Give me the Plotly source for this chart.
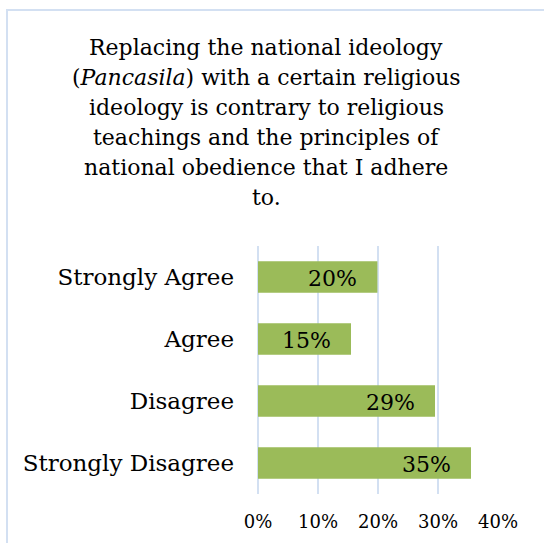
import plotly.graph_objects as go

categories = ["Strongly Agree", "Agree", "Disagree", "Strongly Disagree"]
values = [0.199, 0.155, 0.295, 0.355]
value_labels = ["20%", "15%", "29%", "35%"]
tick_vals = [0, 0.1, 0.2, 0.3, 0.4]
tick_text = ["0%", "10%", "20%", "30%", "40%"]

title_lines = [
    "Replacing the national ideology",
    "(<i>Pancasila</i>) with a certain religious",
    "ideology is contrary to religious",
    "teachings and the principles of",
    "national obedience that I adhere",
    "to.",
]

FONT = "DejaVu Serif"
W, H = 544, 543
L, R, T, B = 258, 46, 246, 49
pw = W - L - R
ph = H - T - B


def px_x(sx):
    return (sx - L) / pw


def px_y(sy):
    return 1 + (T - sy) / ph


fig = go.Figure()
fig.add_trace(go.Bar(
    x=values, y=categories, orientation="h",
    marker=dict(color="#9BBB59", line=dict(width=0)),
    hoverinfo="skip",
))

for v, c, t in zip(values, categories, value_labels):
    fig.add_annotation(x=v, y=c, text=t, showarrow=False, xanchor="right",
                       xshift=-18, yshift=-1,
                       font=dict(family=FONT, size=22, color="#000000"))

# title lines (baselines at 55, 85, ... px)
for i, line in enumerate(title_lines):
    baseline = 55 + 30 * i
    fig.add_annotation(xref="paper", yref="paper", x=px_x(266), y=px_y(baseline - 8),
                       text=line, showarrow=False, xanchor="center", yanchor="middle",
                       font=dict(family=FONT, size=22, color="#000000"))

# chart-area border
fig.add_shape(type="rect", xref="paper", yref="paper",
              x0=px_x(7), x1=px_x(W + 20), y0=px_y(H + 20), y1=px_y(10),
              line=dict(color="#D3E0F2", width=2), fillcolor="rgba(0,0,0,0)", layer="below")

fig.update_layout(
    width=W, height=H,
    margin=dict(l=L, r=R, t=T, b=B, autoexpand=False),
    paper_bgcolor="white", plot_bgcolor="white",
    bargap=0.49,
    showlegend=False,
    font=dict(family=FONT, color="#000000"),
)
fig.update_xaxes(range=[0, 0.4], tickvals=tick_vals, ticktext=tick_text,
                 showgrid=True, gridcolor="#D3E0F2", gridwidth=2,
                 zeroline=True, zerolinecolor="#D3E0F2", zerolinewidth=2,
                 showline=False, ticks="", tickfont=dict(family=FONT, size=18),
                 ticklabelstandoff=15, fixedrange=True)
fig.update_yaxes(categoryorder="array", categoryarray=categories, autorange="reversed",
                 showgrid=False, zeroline=False, showline=False, ticks="",
                 tickfont=dict(family=FONT, size=23), ticklabelstandoff=23, fixedrange=True)

fig.write_html("out.html", config={"displayModeBar": False},
               post_script="document.body.style.margin='0';")
